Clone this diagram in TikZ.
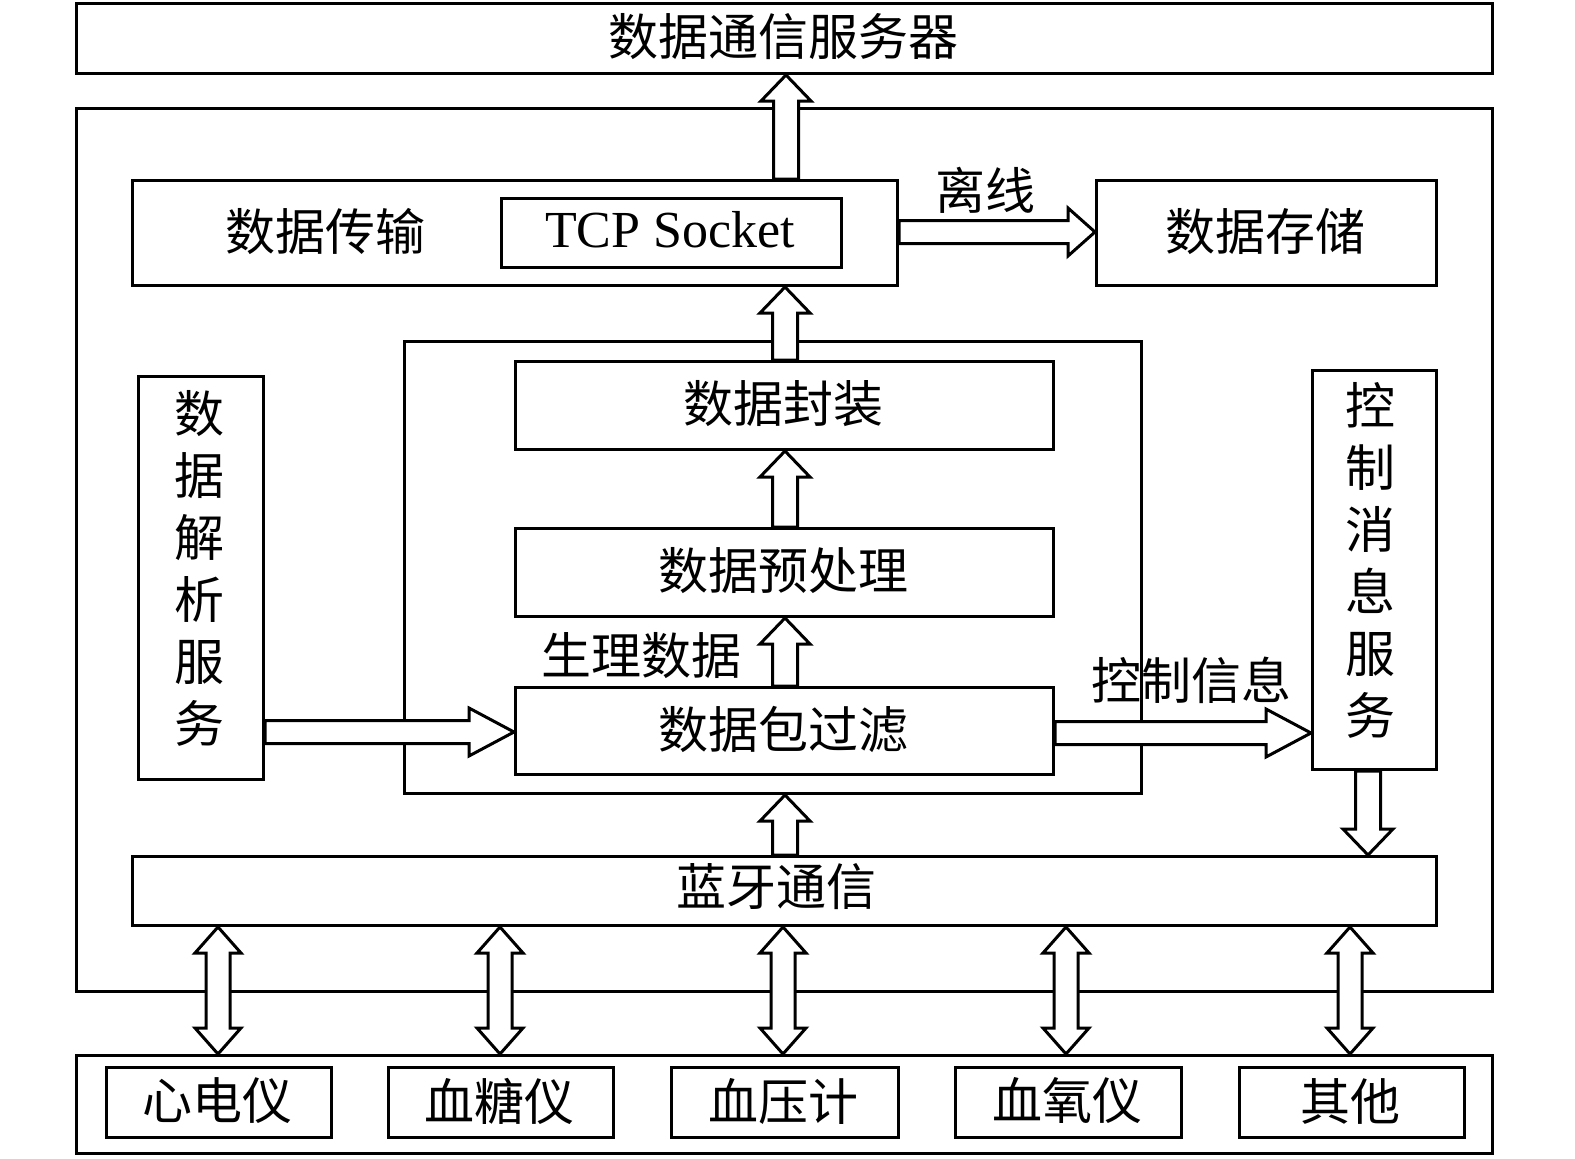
\documentclass[tikz,border=0pt]{standalone}
\usepackage{fontspec}
\setmainfont{Liberation Serif}
\newfontfamily\cjk{Noto Sans CJK SC}
\usetikzlibrary{calc}
\tikzset{
  box/.style={draw, line width=3pt, inner sep=0pt, anchor=north west},
  blk/.style={draw, fill=white, line width=3pt, line join=miter},
  zh/.style={font=\cjk\fontsize{50}{62}\selectfont, inner sep=0pt, align=center},
  en/.style={font=\fontsize{52}{60}\selectfont, inner sep=0pt},
}
\newcommand\upblk[3]{%
  \draw[blk] let \p1=(#2), \p2=(#3) in
    (#1pt-12.5pt,\y1) -- (#1pt-12.5pt,\y2-26pt) -- (#1pt-25pt,\y2-26pt) -- (#1pt,\y2)
    -- (#1pt+25pt,\y2-26pt) -- (#1pt+12.5pt,\y2-26pt) -- (#1pt+12.5pt,\y1) -- cycle;}
\newcommand\downblk[3]{%
  \draw[blk] let \p1=(#2), \p2=(#3) in
    (#1pt-12.5pt,\y1) -- (#1pt-12.5pt,\y2+26pt) -- (#1pt-25pt,\y2+26pt) -- (#1pt,\y2)
    -- (#1pt+25pt,\y2+26pt) -- (#1pt+12.5pt,\y2+26pt) -- (#1pt+12.5pt,\y1) -- cycle;}
\newcommand\rightblk[4]{%
  \draw[blk] let \p1=(#2), \p2=(#3) in
    (\x1,-#1pt+11.5pt) -- (\x2-#4pt,-#1pt+11.5pt) -- (\x2-#4pt,-#1pt+24pt) -- (\x2,-#1pt)
    -- (\x2-#4pt,-#1pt-24pt) -- (\x2-#4pt,-#1pt-11.5pt) -- (\x1,-#1pt-11.5pt) -- cycle;}
\newcommand\dblblk[3]{%
  \draw[blk] let \p1=(#2), \p2=(#3) in
    (#1pt-12pt,\y1-26pt) -- (#1pt-23pt,\y1-26pt) -- (#1pt,\y1) -- (#1pt+23pt,\y1-26pt)
    -- (#1pt+12pt,\y1-26pt) -- (#1pt+12pt,\y2+26pt) -- (#1pt+23pt,\y2+26pt) -- (#1pt,\y2)
    -- (#1pt-23pt,\y2+26pt) -- (#1pt-12pt,\y2+26pt) -- cycle;}
\begin{document}
\begin{tikzpicture}[x=1pt,y=-1pt]
\useasboundingbox (0,0) rectangle (1575,1159);
% boxes
\node[box, minimum width=1416pt, minimum height=70pt] (top) at (75,2) {};
\node[zh] at (783,37) {数据通信服务器};
\node[box, minimum width=1416pt, minimum height=883pt] (frame) at (75,107) {};
\node[box, minimum width=765pt, minimum height=105pt] (trans) at (131,179) {};
\node[zh] (transt) at (325,231) {数据传输};
\node[box, minimum width=340pt, minimum height=69pt, en] (tcp) at (500,197) {};
\node[en] at (670,230) {TCP Socket};
\node[box, minimum width=340pt, minimum height=105pt] (store) at (1095,179) {};
\node[zh] at (1265,232) {数据存储};
\node[box, minimum width=737pt, minimum height=452pt] (mid) at (403,340) {};
\node[box, minimum width=538pt, minimum height=88pt] (pack) at (514,360) {};
\node[zh] at (783,404) {数据封装};
\node[box, minimum width=538pt, minimum height=88pt] (pre) at (514,527) {};
\node[zh] at (783,571) {数据预处理};
\node[box, minimum width=538pt, minimum height=87pt] (filt) at (514,686) {};
\node[zh] at (783,729) {数据包过滤};
\node[box, minimum width=125pt, minimum height=403pt] (parse) at (137,375) {};
\node[zh] at (199,568) {数\\据\\解\\析\\服\\务};
\node[box, minimum width=124pt, minimum height=399pt] (ctrl) at (1311,369) {};
\node[zh] at (1370,560) {控\\制\\消\\息\\服\\务};
\node[box, minimum width=1304pt, minimum height=69pt] (bt) at (131,855) {};
\node[zh] at (776,887) {蓝牙通信};
\node[box, minimum width=1416pt, minimum height=98pt] (dev) at (75,1054) {};
\node[box, minimum width=225pt, minimum height=70pt] (d1) at (105,1066) {};
\node[zh] at (217,1101) {心电仪};
\node[box, minimum width=225pt, minimum height=70pt] (d2) at (387,1066) {};
\node[zh] at (499,1101) {血糖仪};
\node[box, minimum width=227pt, minimum height=70pt] (d3) at (670,1066) {};
\node[zh] at (783,1101) {血压计};
\node[box, minimum width=226pt, minimum height=70pt] (d4) at (954,1066) {};
\node[zh] at (1067,1101) {血氧仪};
\node[box, minimum width=225pt, minimum height=70pt] (d5) at (1238,1066) {};
\node[zh] at (1350,1101) {其他};
% labels
\node[zh] at (985,190) {离线};
\node[zh] at (641,656) {生理数据};
\node[zh] at (1191,680) {控制信息};
% block arrows
\upblk{786}{trans.north}{top.south}
\upblk{785}{pack.north}{trans.south}
\upblk{785}{pre.north}{pack.south}
\upblk{785}{filt.north}{pre.south}
\upblk{785}{bt.north}{mid.south}
\downblk{1368}{ctrl.south}{bt.north}
\rightblk{232}{trans.east}{store.west}{27}
\rightblk{732}{parse.east}{filt.west}{45}
\rightblk{733}{filt.east}{ctrl.west}{45}
\dblblk{218}{bt.south}{dev.north}
\dblblk{500}{bt.south}{dev.north}
\dblblk{783}{bt.south}{dev.north}
\dblblk{1066}{bt.south}{dev.north}
\dblblk{1350}{bt.south}{dev.north}
\end{tikzpicture}
\end{document}
